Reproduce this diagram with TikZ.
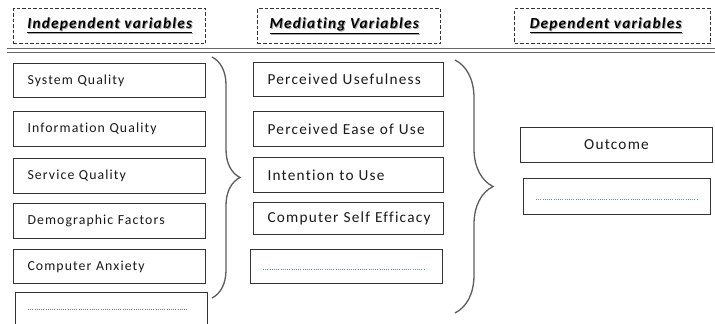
\documentclass[tikz,border=0pt]{standalone}
\usepackage{fontspec}
\setmainfont{Carlito}[LetterSpace=8,Ligatures=NoCommon]
\usepackage{tikz}
\usetikzlibrary{decorations.pathreplacing}

\definecolor{boxline}{HTML}{333333}
\definecolor{braceline}{HTML}{5C5C5C}
\definecolor{dotgray}{HTML}{7E7E7E}
\definecolor{dotteal}{HTML}{6F90A0}

% underlined heading with a soft grey drop shadow
\newcommand{\hdrtext}[1]{\makebox[0pt][l]{\raisebox{-1pt}{\hspace{1pt}\textcolor{black!35}{\underline{#1}}}}\underline{#1}}

\begin{document}
\begin{tikzpicture}[x=1pt,y=-1pt,
  hdr/.style={draw=boxline,line width=1.4pt,dash pattern=on 3.5pt off 2pt,minimum height=35pt,anchor=north west,inner sep=0pt,font=\fontsize{15.3}{17}\selectfont\bfseries\itshape},
  var/.style={draw=boxline,line width=1pt,minimum height=34pt,anchor=north west,inner xsep=14pt,inner ysep=0pt,align=left,text=black!90},
  ivar/.style={var,text width=164pt,font=\fontsize{13.8}{15}\selectfont},
  mvar/.style={var,text width=162pt,font=\fontsize{15.3}{17}\selectfont},
  dvar/.style={var,inner xsep=0pt,align=center,font=\fontsize{15.3}{17}\selectfont},
  curly/.style={draw=braceline,line width=1.3pt,decorate,decoration={brace,amplitude=#1,aspect=0.5}},
  dots/.style={line width=1pt,dash pattern=on 1pt off 1.2pt}]
 \useasboundingbox (0,0) rectangle (715,324);
 % headings
 \node[hdr,minimum width=192pt] (hind) at (13,8) {\hdrtext{Independent variables}};
 \node[hdr,minimum width=183pt] (hmed) at (257,8) {\hdrtext{Mediating Variables}\hspace*{10pt}};
 \node[hdr,minimum width=196pt] (hdep) at (514,8) {\hdrtext{Dependent variables}\hspace*{14pt}};
 % double rule under the headings
 \coordinate (ruleL) at (7,50.5);
 \coordinate (ruleR) at (715,50.5);
 \draw[black!60,line width=1pt,double,double distance=2.4pt] (ruleL) -- (ruleR);
 % independent variables
 \node[ivar] (sysq) at (13,63) {System Quality};
 \node[ivar,minimum height=35pt] (infq) at (13,111) {Information Quality};
 \node[ivar,minimum height=35pt] (serq) at (13,158) {Service Quality};
 \node[ivar,minimum height=35pt] (demo) at (13,203) {Demographic Factors};
 \node[ivar] (canx) at (13,249) {Computer Anxiety};
 \node[ivar] (imore) at (15,292) {};
 \draw[dotgray,dots] ([xshift=13pt]imore.west) -- ([xshift=-20pt]imore.east);
 % mediating variables
 \node[mvar] (pu) at (253,62) {Perceived Usefulness};
 \node[mvar,minimum height=35pt,line width=1.3pt] (peou) at (253,111) {Perceived Ease of Use};
 \node[mvar,minimum height=35pt] (itu) at (253,157) {Intention to Use};
 \node[mvar,minimum height=32pt] (cse) at (253,202) {Computer Self Efficacy};
 \node[mvar,text width=164pt] (mmore) at (250,249) {};
 \draw[dotteal,dots] ([xshift=13pt,yshift=-3pt]mmore.west) -- ([xshift=-19pt,yshift=-3pt]mmore.east);
 % dependent variables
 \node[dvar,minimum width=192pt,minimum height=35pt] (outc) at (520,127) {Outcome};
 \node[dvar,minimum width=187pt,minimum height=36pt] (dmore) at (523,178) {};
 \draw[dotteal,dots] ([xshift=13pt,yshift=-3pt]dmore.west) -- ([xshift=-13pt,yshift=-3pt]dmore.east);
 % braces joining the columns
 \coordinate (bIa) at (212,57);
 \coordinate (bIb) at (212,298);
 \coordinate (bMa) at (455,60);
 \coordinate (bMb) at (455,313);
 \draw[curly=28pt] (bIa) -- (bIb);
 \draw[curly=38pt] (bMa) -- (bMb);
\end{tikzpicture}
\end{document}
